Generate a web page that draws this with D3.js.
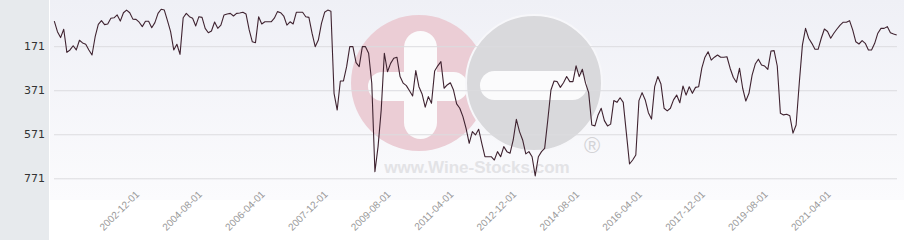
<!DOCTYPE html>
<html><head><meta charset="utf-8">
<script src="https://cdn.jsdelivr.net/npm/d3@7"></script>
<style>html,body{margin:0;padding:0;background:#fff;} svg{display:block}</style>
</head><body><svg id="c" width="904" height="240"></svg>
<script>
// Monthly rank series, first month below
const startMonth = "2000-08-01";
const ranks = [
 57,105,132,94,199,188,169,188,144,156,162,188,211,128,72,55,73,70,44,42,
 29,57,19,7,19,48,49,62,82,58,58,87,64,22,3,7,55,105,188,162,
 208,42,22,37,44,79,37,40,90,110,102,61,90,75,29,25,22,34,22,20,
 17,25,97,151,155,37,70,60,60,60,44,14,19,34,75,60,70,17,17,17,
 37,40,112,173,143,67,17,7,12,385,461,329,329,264,173,173,246,264,173,173,
 203,339,741,627,461,203,287,249,226,221,309,339,350,373,397,282,355,388,448,400,
 430,284,260,241,362,347,337,370,433,453,491,544,612,559,574,548,612,673,673,673,
 688,650,673,627,650,657,597,503,559,597,660,650,673,760,673,650,635,506,370,329,
 332,358,337,309,332,332,260,309,276,339,382,529,533,483,453,509,533,525,418,426,
 405,426,566,706,688,665,418,382,415,473,502,355,309,343,453,465,453,415,393,428,
 352,393,355,385,358,355,271,221,196,234,221,211,221,221,219,271,312,335,271,362,
 420,385,302,252,230,256,261,276,193,191,261,476,483,480,487,566,529,339,166,90,
 135,158,185,185,135,93,104,135,112,93,75,62,62,55,97,151,161,146,158,188,
 188,158,112,90,90,82,110,116,120
];
const yTicks = [171, 371, 571, 771];
const xTickLabels = ["2002-12-01","2004-08-01","2006-04-01","2007-12-01","2009-08-01","2011-04-01",
  "2012-12-01","2014-08-01","2016-04-01","2017-12-01","2019-08-01","2021-04-01"];

const fmt = d3.timeFormat("%Y-%m-%d");
const parse = d3.timeParse("%Y-%m-%d");
const t0 = parse(startMonth);
const months = d3.timeMonth.range(t0, d3.timeMonth.offset(t0, ranks.length)).map(fmt);
const data = months.map((m, i) => ({m, v: ranks[i]}));

const svg = d3.select("#c");
const W = 904, H = 240;
const x = d3.scalePoint().domain(months).range([54.3, 896.7]);
const y = d3.scaleLinear().domain([171, 771]).range([46.2, 178.3]);

const defs = svg.append("defs");
const grad = defs.append("linearGradient").attr("id", "bg").attr("x1", 0).attr("y1", 0).attr("x2", 0).attr("y2", 1);
grad.append("stop").attr("offset", "0%").attr("stop-color", "#eff0f6");
grad.append("stop").attr("offset", "100%").attr("stop-color", "#fbfbfd");

svg.append("rect").attr("x", 0).attr("y", 0).attr("width", W).attr("height", H).attr("fill", "#ffffff");
svg.append("rect").attr("x", 50).attr("y", 0).attr("width", W - 50).attr("height", 200).attr("fill", "url(#bg)");
svg.append("rect").attr("x", 0).attr("y", 0).attr("width", 49).attr("height", H).attr("fill", "#e7eaed");

// watermark
const wm = svg.append("g");
wm.append("circle").attr("cx", 419).attr("cy", 83).attr("r", 68).attr("fill", "#ebcdd5");
wm.append("rect").attr("x", 404).attr("y", 31).attr("width", 33).attr("height", 108).attr("rx", 16.5).attr("fill", "#fbfbfc");
wm.append("rect").attr("x", 368).attr("y", 72).attr("width", 100).attr("height", 29).attr("rx", 14.5).attr("fill", "#fbfbfc");
wm.append("circle").attr("cx", 534).attr("cy", 83).attr("r", 68).attr("fill", "#d9d9dc").attr("stroke", "#f7f7fa").attr("stroke-width", 2);
wm.append("rect").attr("x", 480).attr("y", 71).attr("width", 107).attr("height", 29).attr("rx", 14.5).attr("fill", "#fbfbfc");
wm.append("text").attr("x", 477).attr("y", 173).attr("text-anchor", "middle")
  .attr("font-family", "Liberation Sans, Arial, sans-serif").attr("font-weight", "bold").attr("font-size", 17)
  .attr("fill", "#e3e3e6").text("www.Wine-Stocks.com");
wm.append("text").attr("x", 592).attr("y", 153).attr("text-anchor", "middle")
  .attr("font-family", "Liberation Sans, Arial, sans-serif").attr("font-size", 22)
  .attr("fill", "#d3d3d6").text("®");

// grid + y labels
const yAxis = d3.axisLeft(y).tickValues(yTicks).tickSize(0).tickPadding(0).tickFormat(d3.format("d"));
const gy = svg.append("g").attr("transform", "translate(45,0)").call(yAxis);
gy.select(".domain").remove();
gy.selectAll("text").attr("font-family", "DejaVu Sans, sans-serif").attr("font-size", 11).attr("fill", "#333");

const grid = d3.axisLeft(y).tickValues(yTicks).tickSize(-(897 - 54)).tickFormat("");
const gg = svg.append("g").attr("transform", "translate(54,0)").call(grid);
gg.select(".domain").remove();
gg.selectAll("line").attr("stroke", "#dcdcdf").attr("stroke-width", 1);

// x axis labels
const xAxis = d3.axisBottom(x).tickValues(xTickLabels).tickSize(0).tickFormat(d => d);
const gx = svg.append("g").attr("transform", "translate(0,195)").call(xAxis);
gx.select(".domain").remove();
gx.selectAll("text")
  .attr("x", 0).attr("y", 0).attr("dy", 0)
  .attr("text-anchor", "end")
  .attr("transform", "translate(-3,0) rotate(-45)")
  .attr("font-family", "Liberation Sans, Arial, sans-serif").attr("font-size", 10).attr("fill", "#999");

// line
const line = d3.line().x(d => x(d.m)).y(d => y(d.v));
svg.append("path").datum(data).attr("d", line)
  .attr("fill", "none").attr("stroke", "#3f2330").attr("stroke-width", 1.1).attr("stroke-linejoin", "round");
</script></body></html>
